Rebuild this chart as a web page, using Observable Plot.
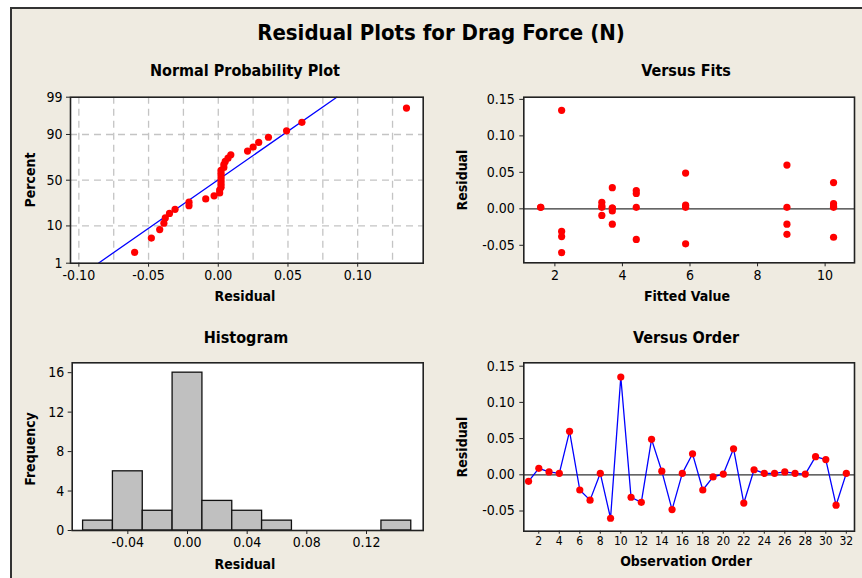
<!DOCTYPE html>
<html><head><meta charset="utf-8">
<script src="https://cdn.jsdelivr.net/npm/d3@7"></script>
<script src="https://cdn.jsdelivr.net/npm/@observablehq/plot@0.6"></script>
<style>
html,body{margin:0;padding:0;background:#fff;}
#wrap{position:relative;width:862px;height:578px;overflow:hidden;font-family:"DejaVu Sans Condensed","DejaVu Sans",sans-serif;}
#panel{position:absolute;left:10px;top:7px;width:900px;height:620px;background:#EFEBE1;border-left:2px solid #333;border-top:2px solid #333;box-sizing:border-box}
.t{position:absolute;font-weight:bold;color:#000;white-space:nowrap;transform:translate(-50%,-50%);line-height:1}
.r{transform:translate(-50%,-50%) rotate(-90deg)}
.q{position:absolute}
</style></head>
<body><div id="wrap"><div id="panel"></div></div>
<script>
// ---- data ----
const obs      = [1,2,3,4,5,6,7,8,9,10,11,12,13,14,15,16,17,18,19,20,21,22,23,24,25,26,27,28,29,30,31,32];
const residual = [-0.009,0.009,0.004,0.002, 0.060,-0.021,-0.035,0.002, -0.060,0.135,-0.031,-0.038,
                  0.049,0.005,-0.048,0.002, 0.029,-0.021,-0.003,0.001, 0.036,-0.039,0.007,0.002,
                  0.002,0.004,0.002,0.001, 0.025,0.021,-0.042,0.002];
const fitted   = [3.39,3.39,3.39,3.39, 8.87,8.87,8.87,8.87, 2.20,2.20,2.20,2.20,
                  5.87,5.87,5.87,5.87, 3.70,3.70,3.70,3.70, 10.25,10.25,10.25,10.25,
                  1.58,10.25,1.58,3.70, 4.41,4.41,4.41,4.41];
const fitLineResidual = [-0.086, 0.085];
const fitLinePercent  = [1, 99];
const binEdges = [-0.07,-0.05,-0.03,-0.01,0.01,0.03,0.05,0.07,0.09,0.11,0.13,0.15];
const nppXTicks = [-0.10,-0.05,0.00,0.05,0.10];
const nppXGrid  = [-0.10,-0.075,-0.05,-0.025,0,0.025,0.05,0.075,0.10,0.125];
const pctTicks  = [1,10,50,90,99];
const pctGrid   = [10,50,90];
const fitsXTicks = [2,4,6,8,10];
const resTicks   = [-0.05,0.00,0.05,0.10,0.15];
const histXTicks = [-0.04,0.00,0.04,0.08,0.12];
const histYTicks = [0,4,8,12,16];
const orderTicks = [2,4,6,8,10,12,14,16,18,20,22,24,26,28,30,32];

function probit(p){
 const a=[-3.969683028665376e+01,2.209460984245205e+02,-2.759285104469687e+02,1.383577518672690e+02,-3.066479806614716e+01,2.506628277459239e+00];
 const b=[-5.447609879822406e+01,1.615858368580409e+02,-1.556989798598866e+02,6.680131188771972e+01,-1.328068155288572e+01];
 const c=[-7.784894002430293e-03,-3.223964580411365e-01,-2.400758277161838e+00,-2.549732539343734e+00,4.374664141464968e+00,2.938163982698783e+00];
 const d=[7.784695709041462e-03,3.224671290700398e-01,2.445134137142996e+00,3.754408661907416e+00];
 const pl=0.02425, ph=1-pl; let q,r;
 if(p<pl){q=Math.sqrt(-2*Math.log(p));return (((((c[0]*q+c[1])*q+c[2])*q+c[3])*q+c[4])*q+c[5])/((((d[0]*q+d[1])*q+d[2])*q+d[3])*q+1);}
 if(p<=ph){q=p-0.5;r=q*q;return (((((a[0]*r+a[1])*r+a[2])*r+a[3])*r+a[4])*r+a[5])*q/(((((b[0]*r+b[1])*r+b[2])*r+b[3])*r+b[4])*r+1);}
 q=Math.sqrt(-2*Math.log(1-p));return -(((((c[0]*q+c[1])*q+c[2])*q+c[3])*q+c[4])*q+c[5])/((((d[0]*q+d[1])*q+d[2])*q+d[3])*q+1);
}

const rows = obs.map((o,i)=>({obs:o, res:residual[i], fit:fitted[i]}));
const n = residual.length;
const sorted = residual.slice().sort((a,b)=>a-b);
const npp = sorted.map((r,i)=>({res:r, z:probit((i+1-0.3)/(n+0.4))}));
const fitLine = fitLineResidual.map((r,i)=>({res:r, z:probit(fitLinePercent[i]/100)}));
const zTicks = pctTicks.map(p=>probit(p/100));
const zGrid = pctGrid.map(p=>probit(p/100));

const FONT = '"DejaVu Sans Condensed","DejaVu Sans",sans-serif';
const baseStyle = {background:"transparent", fontSize:"14px", fontFamily:FONT, color:"#000", overflow:"visible"};
const fmt2 = d3.format(".2f");
const fmtNeg = d=> fmt2(d).replace("−","-");
const frameBg = Plot.frame({fill:"white", stroke:null});
const frameFg = Plot.frame({stroke:"#222", strokeWidth:1.6});
const wrap = document.getElementById("wrap");
function place(svg, left, top){ svg.classList.add("q"); svg.style.left=left+"px"; svg.style.top=top+"px"; wrap.appendChild(svg); }
function text(str, x, y, size, rot){ const d=document.createElement("div"); d.className="t"+(rot?" r":""); d.textContent=str; d.style.left=x+"px"; d.style.top=y+"px"; d.style.fontSize=size+"px"; wrap.appendChild(d); }

// Normal probability plot
const p1 = Plot.plot({
  width:431, height:310, marginLeft:70, marginRight:8.3, marginTop:96.7, marginBottom:47.3,
  style:baseStyle,
  x:{domain:[-0.106,0.147]},
  y:{domain:[zTicks[0], zTicks[4]]},
  marks:[
    frameBg,
    Plot.ruleX(nppXGrid,{stroke:"#c4c4c4", strokeWidth:1.3, strokeDasharray:"7,5"}),
    Plot.ruleY(zGrid,{stroke:"#c4c4c4", strokeWidth:1.3, strokeDasharray:"7,5"}),
    Plot.line(fitLine,{x:"res", y:"z", stroke:"#0000ff", strokeWidth:1.3}),
    Plot.dot(npp,{x:"res", y:"z", r:3.6, fill:"#ff0000", stroke:null}),
    Plot.axisX(nppXTicks,{tickFormat:fmtNeg, tickSize:4, tickPadding:3, label:null, fontSize:14, stroke:"#222"}),
    Plot.axisY(zTicks,{tickFormat:z=>String(pctTicks[zTicks.indexOf(z)]), tickSize:4, tickPadding:4, label:null, fontSize:14, stroke:"#222"}),
    frameFg
  ]
});
place(p1,0,0);

// Versus fits
const p2 = Plot.plot({
  width:431, height:310, marginLeft:92.3, marginRight:8, marginTop:96.7, marginBottom:47.7,
  style:baseStyle,
  x:{domain:[1.08,10.87]},
  y:{domain:[-0.074,0.153]},
  marks:[
    frameBg,
    Plot.ruleY([0],{stroke:"#333", strokeWidth:1.3}),
    Plot.dot(rows,{x:"fit", y:"res", r:3.6, fill:"#ff0000", stroke:null}),
    Plot.axisX(fitsXTicks,{tickSize:4, tickPadding:3, label:null, fontSize:14, stroke:"#222"}),
    Plot.axisY(resTicks,{tickFormat:fmtNeg, tickSize:4, tickPadding:5, label:null, fontSize:14, stroke:"#222"}),
    frameFg
  ]
});
place(p2,431,0);

// Histogram
const p3 = Plot.plot({
  width:431, height:268, marginLeft:71.7, marginRight:8.3, marginTop:52.3, marginBottom:48,
  style:baseStyle,
  x:{domain:[-0.0773,0.158]},
  y:{domain:[0,17]},
  marks:[
    frameBg,
    Plot.rectY(residual, Plot.binX({y:"count", filter:null},{x:d=>d, thresholds:binEdges, fill:"#c0c0c0", stroke:"#111", strokeWidth:1.3, inset:0})),
    Plot.axisX(histXTicks,{tickFormat:fmtNeg, tickSize:4, tickPadding:3, label:null, fontSize:14, stroke:"#222"}),
    Plot.axisY(histYTicks,{tickSize:4, tickPadding:4, label:null, fontSize:14, stroke:"#222"}),
    frameFg
  ]
});
place(p3,0,310);

// Versus order
const p4 = Plot.plot({
  width:431, height:268, marginLeft:92.3, marginRight:8, marginTop:52.3, marginBottom:47.3,
  style:baseStyle,
  x:{domain:[0.537,32.8]},
  y:{domain:[-0.0779,0.1547]},
  marks:[
    frameBg,
    Plot.ruleY([0],{stroke:"#333", strokeWidth:1.3}),
    Plot.line(rows,{x:"obs", y:"res", stroke:"#0000ff", strokeWidth:1.3}),
    Plot.dot(rows,{x:"obs", y:"res", r:3.6, fill:"#ff0000", stroke:null}),
    Plot.axisX(orderTicks,{tickSize:3, tickPadding:2, label:null, fontSize:12, stroke:"#222"}),
    Plot.axisY(resTicks,{tickFormat:fmtNeg, tickSize:4, tickPadding:5, label:null, fontSize:14, stroke:"#222"}),
    frameFg
  ]
});
place(p4,431,310);

// titles and axis labels
text("Residual Plots for Drag Force (N)", 441, 33, 22);
text("Normal Probability Plot", 245, 71, 16);
text("Versus Fits", 686, 71, 16);
text("Histogram", 246, 338, 16);
text("Versus Order", 686, 338, 16);
text("Residual", 245, 296, 14);
text("Fitted Value", 687, 296, 14);
text("Residual", 245, 564, 14);
text("Observation Order", 686, 561, 14);
text("Percent", 30, 180, 14, true);
text("Residual", 462, 180, 14, true);
text("Frequency", 30, 449, 14, true);
text("Residual", 462, 447, 14, true);
</script></body></html>
